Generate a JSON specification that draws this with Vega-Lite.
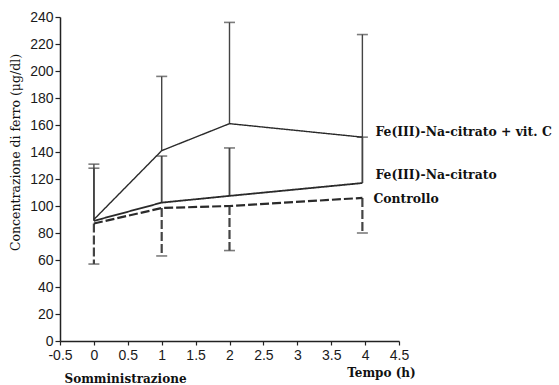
{
  "$schema": "https://vega.github.io/schema/vega-lite/v6.json",
  "width": 339,
  "height": 324,
  "autosize": "none",
  "padding": {"left": 60, "top": 17, "right": 160, "bottom": 44},
  "background": "white",
  "config": {
    "view": {"stroke": null},
    "axis": {
      "grid": false,
      "domainColor": "#222",
      "domainWidth": 1.5,
      "tickColor": "#222",
      "tickSize": 5,
      "tickWidth": 1.2,
      "labelColor": "#1a1a1a",
      "labelFont": "Liberation Sans",
      "labelFontSize": 14,
      "labelOverlap": false,
      "labelFlush": false,
      "titleColor": "#111",
      "titleFont": "DejaVu Serif"
    },
    "axisY": {
      "tickCount": 12,
      "labelPadding": 2,
      "titleFontSize": 12.5,
      "titleFontWeight": "normal",
      "titleX": -45,
      "titleY": 135,
      "titleAngle": -90,
      "titleAlign": "center",
      "titleBaseline": "middle"
    }
  },
  "datasets": {
    "means": [
      {"serie": "vitC", "t": 0, "v": 90},
      {"serie": "vitC", "t": 1, "v": 141},
      {"serie": "vitC", "t": 2, "v": 161},
      {"serie": "vitC", "t": 3.96, "v": 151},
      {"serie": "FeNa", "t": 0, "v": 89},
      {"serie": "FeNa", "t": 1, "v": 102.5},
      {"serie": "FeNa", "t": 2, "v": 107.5},
      {"serie": "FeNa", "t": 3.96, "v": 117},
      {"serie": "Controllo", "t": 0, "v": 87},
      {"serie": "Controllo", "t": 1, "v": 98.5},
      {"serie": "Controllo", "t": 2, "v": 100},
      {"serie": "Controllo", "t": 3.96, "v": 106}
    ],
    "errors": [
      {"serie": "vitC", "t": 0, "v": 90, "e": 131},
      {"serie": "vitC", "t": 1, "v": 141, "e": 196},
      {"serie": "vitC", "t": 2, "v": 161, "e": 236},
      {"serie": "vitC", "t": 3.96, "v": 151, "e": 227},
      {"serie": "FeNa", "t": 0, "v": 89, "e": 128},
      {"serie": "FeNa", "t": 1, "v": 102.5, "e": 137},
      {"serie": "FeNa", "t": 2, "v": 107.5, "e": 143},
      {"serie": "FeNa", "t": 3.96, "v": 117, "e": 151},
      {"serie": "Controllo", "t": 0, "v": 87, "e": 57},
      {"serie": "Controllo", "t": 1, "v": 98.5, "e": 63},
      {"serie": "Controllo", "t": 2, "v": 100, "e": 67},
      {"serie": "Controllo", "t": 3.96, "v": 106, "e": 80}
    ],
    "labels": [
      {"serie": "vitC", "t": 3.96, "v": 151, "label": "Fe(III)-Na-citrato + vit. C"},
      {"serie": "FeNa", "t": 3.96, "v": 117, "label": "Fe(III)-Na-citrato"},
      {"serie": "Controllo", "t": 3.96, "v": 106, "label": "Controllo"}
    ]
  },
  "resolve": {"axis": {"x": "independent"}},
  "layer": [
    {
      "data": {"name": "errors"},
      "mark": {"type": "rule", "color": "#444"},
      "encoding": {
        "x": {
          "field": "t", "type": "quantitative",
          "scale": {"domain": [-0.5, 4.5], "nice": false, "zero": false},
          "axis": {
            "orient": "bottom",
            "values": [-0.5, 0, 0.5, 1, 1.5, 2, 2.5, 3, 3.5, 4, 4.5],
            "labelExpr": "'' + datum.value",
            "labelPadding": 3,
            "tickSize": 4,
            "title": "Tempo (h)",
            "titleFontSize": 12,
            "titleFontWeight": "bold",
            "titleX": 321,
            "titleY": 26,
            "titleAnchor": null,
            "titleAlign": "center",
            "titleBaseline": "top"
          }
        },
        "y": {
          "field": "v", "type": "quantitative",
          "scale": {"domain": [0, 240], "nice": false},
          "axis": {"title": "Concentrazione di ferro (μg/dl)"}
        },
        "y2": {"field": "e"},
        "strokeDash": {
          "field": "serie", "type": "nominal",
          "scale": {"domain": ["vitC", "FeNa", "Controllo"], "range": [[1, 0], [1, 0], [9, 3]]},
          "legend": null
        },
        "strokeWidth": {
          "field": "serie", "type": "nominal",
          "scale": {"domain": ["vitC", "FeNa", "Controllo"], "range": [1.4, 2.2, 1.2]},
          "legend": null
        }
      }
    },
    {
      "data": {"name": "errors"},
      "mark": {"type": "tick", "orient": "horizontal", "color": "#444", "size": 11, "thickness": 1.6},
      "encoding": {
        "x": {
          "field": "t", "type": "quantitative",
          "axis": {
            "orient": "bottom",
            "labels": false, "ticks": false, "domain": false,
            "title": "Somministrazione",
            "titleFontSize": 12,
            "titleFontWeight": "bold",
            "titleX": 65,
            "titleY": 32,
            "titleAnchor": null,
            "titleAlign": "center",
            "titleBaseline": "top"
          }
        },
        "y": {"field": "e", "type": "quantitative", "axis": {"title": "Concentrazione di ferro (μg/dl)"}}
      }
    },
    {
      "data": {"name": "means"},
      "mark": {"type": "line", "color": "#2a2a2a"},
      "encoding": {
        "x": {"field": "t", "type": "quantitative", "axis": null},
        "y": {"field": "v", "type": "quantitative", "axis": {"title": "Concentrazione di ferro (μg/dl)"}},
        "detail": {"field": "serie"},
        "strokeDash": {"field": "serie", "type": "nominal", "legend": null},
        "strokeWidth": {"field": "serie", "type": "nominal", "legend": null}
      }
    },
    {
      "data": {"name": "labels"},
      "transform": [{"filter": "datum.serie == 'vitC'"}],
      "mark": {"type": "text", "align": "left", "baseline": "middle", "dx": 13, "dy": -5, "font": "DejaVu Serif", "fontWeight": "bold", "fontSize": 12.4, "color": "#111"},
      "encoding": {
        "x": {"field": "t", "type": "quantitative", "axis": null},
        "y": {"field": "v", "type": "quantitative", "axis": {"title": "Concentrazione di ferro (μg/dl)"}},
        "text": {"field": "label"}
      }
    },
    {
      "data": {"name": "labels"},
      "transform": [{"filter": "datum.serie == 'FeNa'"}],
      "mark": {"type": "text", "align": "left", "baseline": "middle", "dx": 13, "dy": -8, "font": "DejaVu Serif", "fontWeight": "bold", "fontSize": 12.4, "color": "#111"},
      "encoding": {
        "x": {"field": "t", "type": "quantitative", "axis": null},
        "y": {"field": "v", "type": "quantitative", "axis": {"title": "Concentrazione di ferro (μg/dl)"}},
        "text": {"field": "label"}
      }
    },
    {
      "data": {"name": "labels"},
      "transform": [{"filter": "datum.serie == 'Controllo'"}],
      "mark": {"type": "text", "align": "left", "baseline": "middle", "dx": 11, "dy": 1, "font": "DejaVu Serif", "fontWeight": "bold", "fontSize": 12.4, "color": "#111"},
      "encoding": {
        "x": {"field": "t", "type": "quantitative", "axis": null},
        "y": {"field": "v", "type": "quantitative", "axis": {"title": "Concentrazione di ferro (μg/dl)"}},
        "text": {"field": "label"}
      }
    }
  ]
}
